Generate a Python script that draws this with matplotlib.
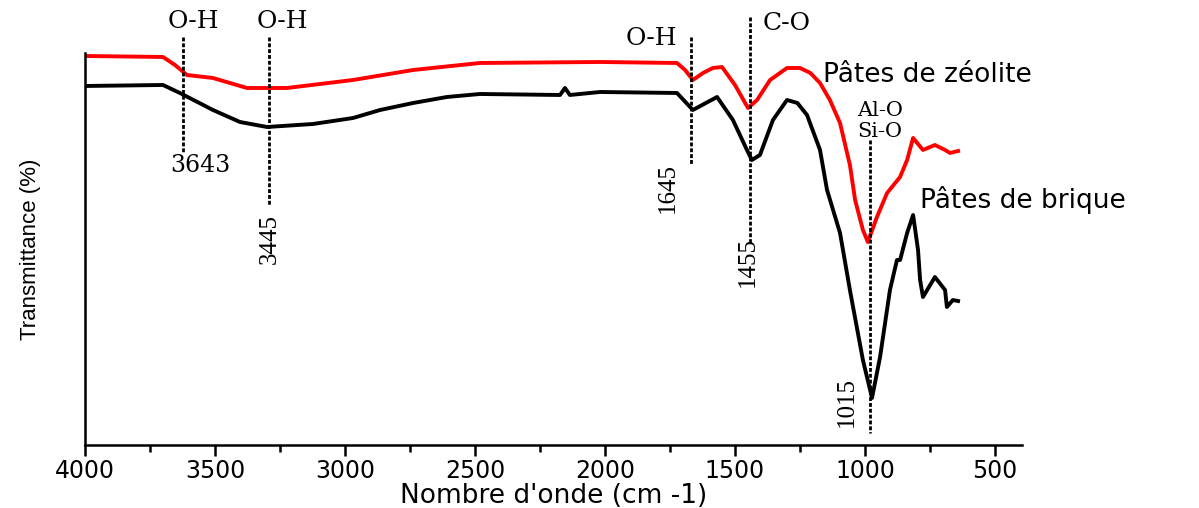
import matplotlib.pyplot as plt

# Spectres IR (nombre d'onde en cm-1, transmittance en unités arbitraires)
wn_zeolite = [4000, 3700, 3654, 3608, 3508, 3377, 3223, 2969, 2738, 2481, 2019, 1723,
              1692, 1662, 1623, 1585, 1550, 1500, 1450, 1415, 1365, 1300, 1250, 1210,
              1173, 1135, 1096, 1058, 1038, 1008, 989, 954, 915, 865, 838, 815, 777,
              731, 692, 673, 642]
t_zeolite = [389, 388, 380, 370, 367, 357, 357, 365, 375, 382, 383, 382,
             375, 365, 372, 377, 378, 360, 337, 345, 365, 377, 377, 372,
             362, 345, 322, 280, 245, 215, 203, 228, 252, 268, 285, 307, 295,
             300, 295, 292, 294]

wn_brique = [4000, 3700, 3635, 3508, 3404, 3300, 3123, 2969, 2865, 2738, 2608, 2481,
             2173, 2154, 2135, 2019, 1723, 1662, 1569, 1508, 1454, 1435, 1404, 1354,
             1300, 1260, 1223, 1173, 1146, 1096, 1058, 1008, 973, 942, 904, 877, 865,
             838, 815, 796, 788, 777, 731, 692, 685, 662, 642]
t_brique = [359, 360, 352, 335, 323, 318, 321, 327, 335, 342, 348, 351,
            350, 357, 350, 353, 352, 335, 348, 325, 295, 285, 290, 325,
            345, 342, 330, 295, 255, 212, 155, 85, 47, 88, 155, 185, 185,
            212, 230, 195, 165, 148, 168, 155, 138, 145, 144]

# Bandes annotées : position, haut et bas du trait pointillé
band_x = [3623, 3292, 1669, 1442, 981]
band_top = [408, 408, 408, 428, 305]
band_bottom = [293, 240, 280, 202, 12]

fig = plt.figure(figsize=(11.99, 5.08), dpi=100)
ax = fig.add_axes([0.0709, 0.124, 0.7815, 0.7717])

ax.plot(wn_zeolite, t_zeolite, color="red", linewidth=2.8)
ax.plot(wn_brique, t_brique, color="black", linewidth=2.8)

for x, y0, y1 in zip(band_x, band_top, band_bottom):
    ax.plot([x, x], [y0, y1], color="black", linewidth=2.0,
            linestyle=(0, (1.4, 0.7)), clip_on=False)

serif = dict(family="DejaVu Serif", fontsize=18, color="black")
ax.text(3583, 423, "O-H", ha="center", va="center", clip_on=False, **serif)
ax.text(3242, 423, "O-H", ha="center", va="center", clip_on=False, **serif)
ax.text(1823, 406, "O-H", ha="center", va="center", clip_on=False, **serif)
ax.text(1300, 421, "C-O", ha="center", va="center", clip_on=False, **serif)
ax.text(942, 334, "Al-O", ha="center", va="center", family="DejaVu Serif", fontsize=15)
ax.text(942, 313, "Si-O", ha="center", va="center", family="DejaVu Serif", fontsize=15)
ax.text(3558, 279, "3643", ha="center", va="center", family="DejaVu Serif", fontsize=17)

rot = dict(family="Liberation Serif", fontsize=18, rotation=90, ha="center", va="center")
ax.text(3289, 206, "3445", **rot)
ax.text(1758, 257, "1645", **rot)
ax.text(1450, 183, "1455", **rot)
ax.text(1069, 43, "1015", **rot)

ax.text(1162, 370, "Pâtes de zéolite", ha="left", va="center", family="DejaVu Sans", fontsize=19)
ax.text(789, 245, "Pâtes de brique", ha="left", va="center", family="DejaVu Sans",
        fontsize=19, clip_on=False)

ax.set_xlim(4000, 396)
ax.set_ylim(0, 392)
ax.set_xticks([4000, 3500, 3000, 2500, 2000, 1500, 1000, 500])
ax.set_xticks([3750, 3250, 2750, 2250, 1750, 1250, 750], minor=True)
ax.set_yticks([])
ax.tick_params(axis="x", which="major", length=8, width=1.8, labelsize=17, pad=2)
ax.tick_params(axis="x", which="minor", length=5, width=1.8)
for lab in ax.get_xticklabels():
    lab.set_family("DejaVu Sans")

ax.spines["top"].set_visible(False)
ax.spines["right"].set_visible(False)
ax.spines["left"].set_linewidth(1.8)
ax.spines["bottom"].set_linewidth(1.8)

ax.set_xlabel("Nombre d'onde (cm -1)", family="DejaVu Sans", fontsize=19, labelpad=0)
ax.set_ylabel("Transmittance (%)", family="Liberation Sans", fontsize=16, labelpad=32)

fig.savefig("out.png", dpi=100)
